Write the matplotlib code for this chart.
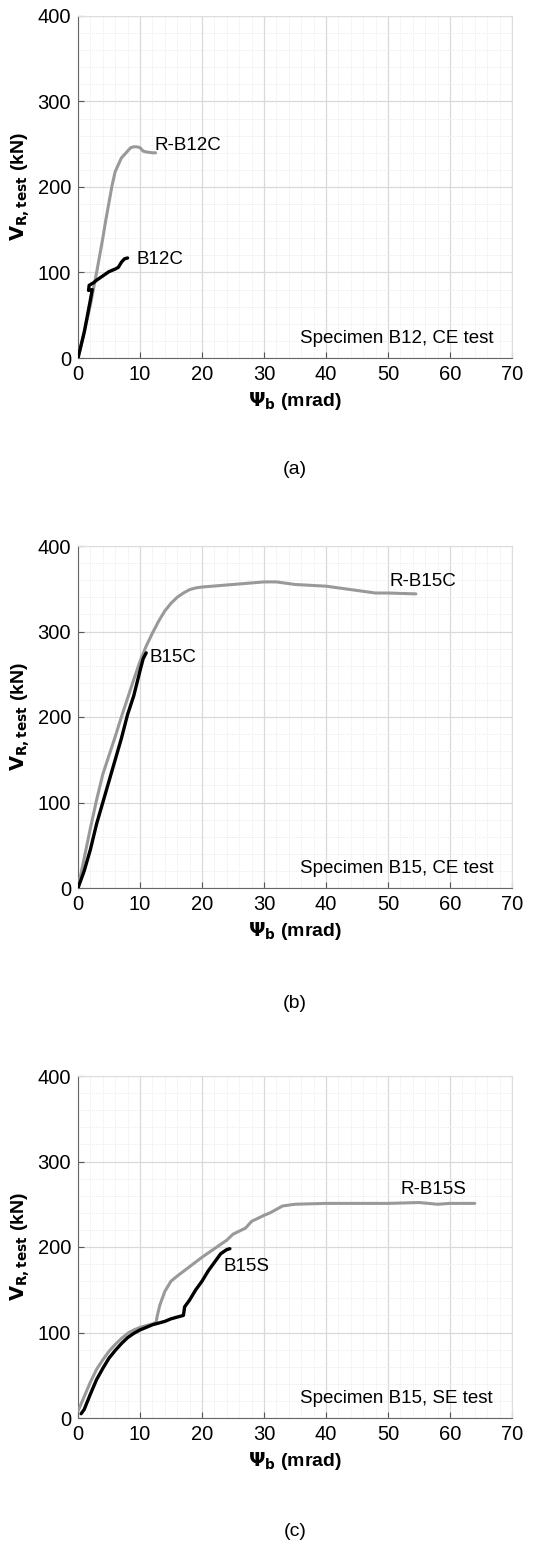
import numpy as np
import matplotlib
matplotlib.use("Agg")
import matplotlib.pyplot as plt
from matplotlib.ticker import MultipleLocator

plt.rcParams['font.family'] = ['Liberation Sans', 'DejaVu Sans']

# panel (a) Specimen B12, CE test
ra_x = [0, 1, 2, 3, 4, 4.5, 5, 5.5, 6, 6.5, 7, 7.5, 8, 8.5, 9, 9.5, 10, 10.5, 11, 12, 12.5]
ra_y = [0, 30, 62, 100, 140, 162, 182, 202, 218, 226, 234, 238, 242, 246, 247, 247, 246, 242, 241, 240, 240]
ba_x = [0, 1, 2, 2.3, 1.7, 1.8, 2.5, 3, 4, 5, 6, 6.5, 7, 7.5, 8]
ba_y = [0, 30, 68, 80, 79, 85, 88, 91, 96, 101, 104, 106, 112, 116, 117]

# panel (b) Specimen B15, CE test
rb_x = [0, 1, 2, 3, 4, 5, 6, 7, 8, 9, 10, 11, 12, 13, 14, 15, 16, 17, 18, 19, 20, 25, 30, 32, 35, 40, 45, 48, 50, 54.5]
rb_y = [0, 35, 70, 103, 133, 155, 177, 200, 222, 244, 265, 283, 298, 312, 324, 333, 340, 345, 349, 351, 352, 355, 358, 358, 355, 353, 348, 345, 345, 344]
bb_x = [0, 1, 2, 3, 4, 5, 6, 7, 8, 9, 10, 10.5, 11]
bb_y = [0, 20, 45, 75, 100, 125, 150, 175, 203, 225, 254, 268, 275]

# panel (c) Specimen B15, SE test
rc_x = [0, 1, 2, 3, 4, 5, 6, 7, 8, 9, 10, 11, 12, 12.6, 12.8, 13.2, 14, 15, 16, 18, 20, 22, 24, 25, 27, 28, 30, 31, 33, 35, 40, 50, 55, 58, 60, 64]
rc_y = [8, 25, 42, 57, 68, 78, 86, 93, 99, 103, 106, 108, 110, 112, 120, 132, 148, 160, 166, 177, 188, 198, 208, 215, 222, 230, 237, 240, 248, 250, 251, 251, 252, 250, 251, 251]
bc_x = [0.5, 1, 2, 3, 4, 5, 6, 7, 8, 9, 10, 11, 12, 13, 14, 15, 16, 17, 17.2, 18, 19, 20, 21, 22, 23, 24, 24.5]
bc_y = [5, 10, 28, 45, 58, 70, 79, 87, 94, 99, 103, 106, 109, 111, 113, 116, 118, 120, 130, 138, 150, 160, 172, 182, 192, 197, 198]

panels = [
    (ra_x, ra_y, ba_x, ba_y, 'R-B12C', (12.4, 249), 'B12C', (9.5, 115), 'Specimen B12, CE test', '(a)'),
    (rb_x, rb_y, bb_x, bb_y, 'R-B15C', (50.2, 358), 'B15C', (11.5, 270), 'Specimen B15, CE test', '(b)'),
    (rc_x, rc_y, bc_x, bc_y, 'R-B15S', (52, 267), 'B15S', (23.4, 177), 'Specimen B15, SE test', '(c)'),
]

fig = plt.figure(figsize=(5.5, 15.46), dpi=100)
bottoms = [1 - 358 / 1546, 1 - 888 / 1546, 1 - 1418 / 1546]
cap_y = [1 - 470 / 1546, 1 - 1003 / 1546, 1 - 1532 / 1546]
h = 342 / 1546

for i, p in enumerate(panels):
    rx, ry, bx, by, rlab, rpos, blab, bpos, note, cap = p
    ax = fig.add_axes([78 / 550, bottoms[i], 434 / 550, h])
    ax.plot(rx, ry, color='#999999', lw=2.2, solid_capstyle='round', zorder=3)
    ax.plot(bx, by, color='black', lw=2.4, solid_capstyle='round', zorder=4)
    ax.text(rpos[0], rpos[1], rlab, fontsize=13.5, va='center', zorder=5)
    ax.text(bpos[0], bpos[1], blab, fontsize=13.5, va='center', zorder=5)
    ax.text(35.8, 23, note, fontsize=13.5, va='center')
    ax.set_xlim(0, 70)
    ax.set_ylim(0, 400)
    ax.xaxis.set_major_locator(MultipleLocator(10))
    ax.yaxis.set_major_locator(MultipleLocator(100))
    ax.xaxis.set_minor_locator(MultipleLocator(2))
    ax.yaxis.set_minor_locator(MultipleLocator(20))
    ax.grid(which='major', color='#d9d9d9', lw=0.9)
    ax.grid(which='minor', color='#ececec', lw=0.7, ls=(0, (1, 1)))
    ax.set_axisbelow(True)
    ax.tick_params(which='major', direction='in', length=4, color='#555555', labelsize=14.5, pad=5,
                   top=False, right=False)
    ax.tick_params(which='minor', length=0)
    for s in ['left', 'bottom']:
        ax.spines[s].set_color('#666666')
    for s in ['top', 'right']:
        ax.spines[s].set_color('#dddddd')
    ax.set_xlabel(r'$\mathbf{\Psi_b}$ (mrad)', fontsize=14, fontweight='bold', labelpad=4)
    ax.set_ylabel(r'$\mathbf{V_{R,test}}$ (kN)', fontsize=14, fontweight='bold', labelpad=4)
    fig.text(295 / 550, cap_y[i], cap, fontsize=14, ha='center', va='center')

fig.savefig('out.png', dpi=100)
